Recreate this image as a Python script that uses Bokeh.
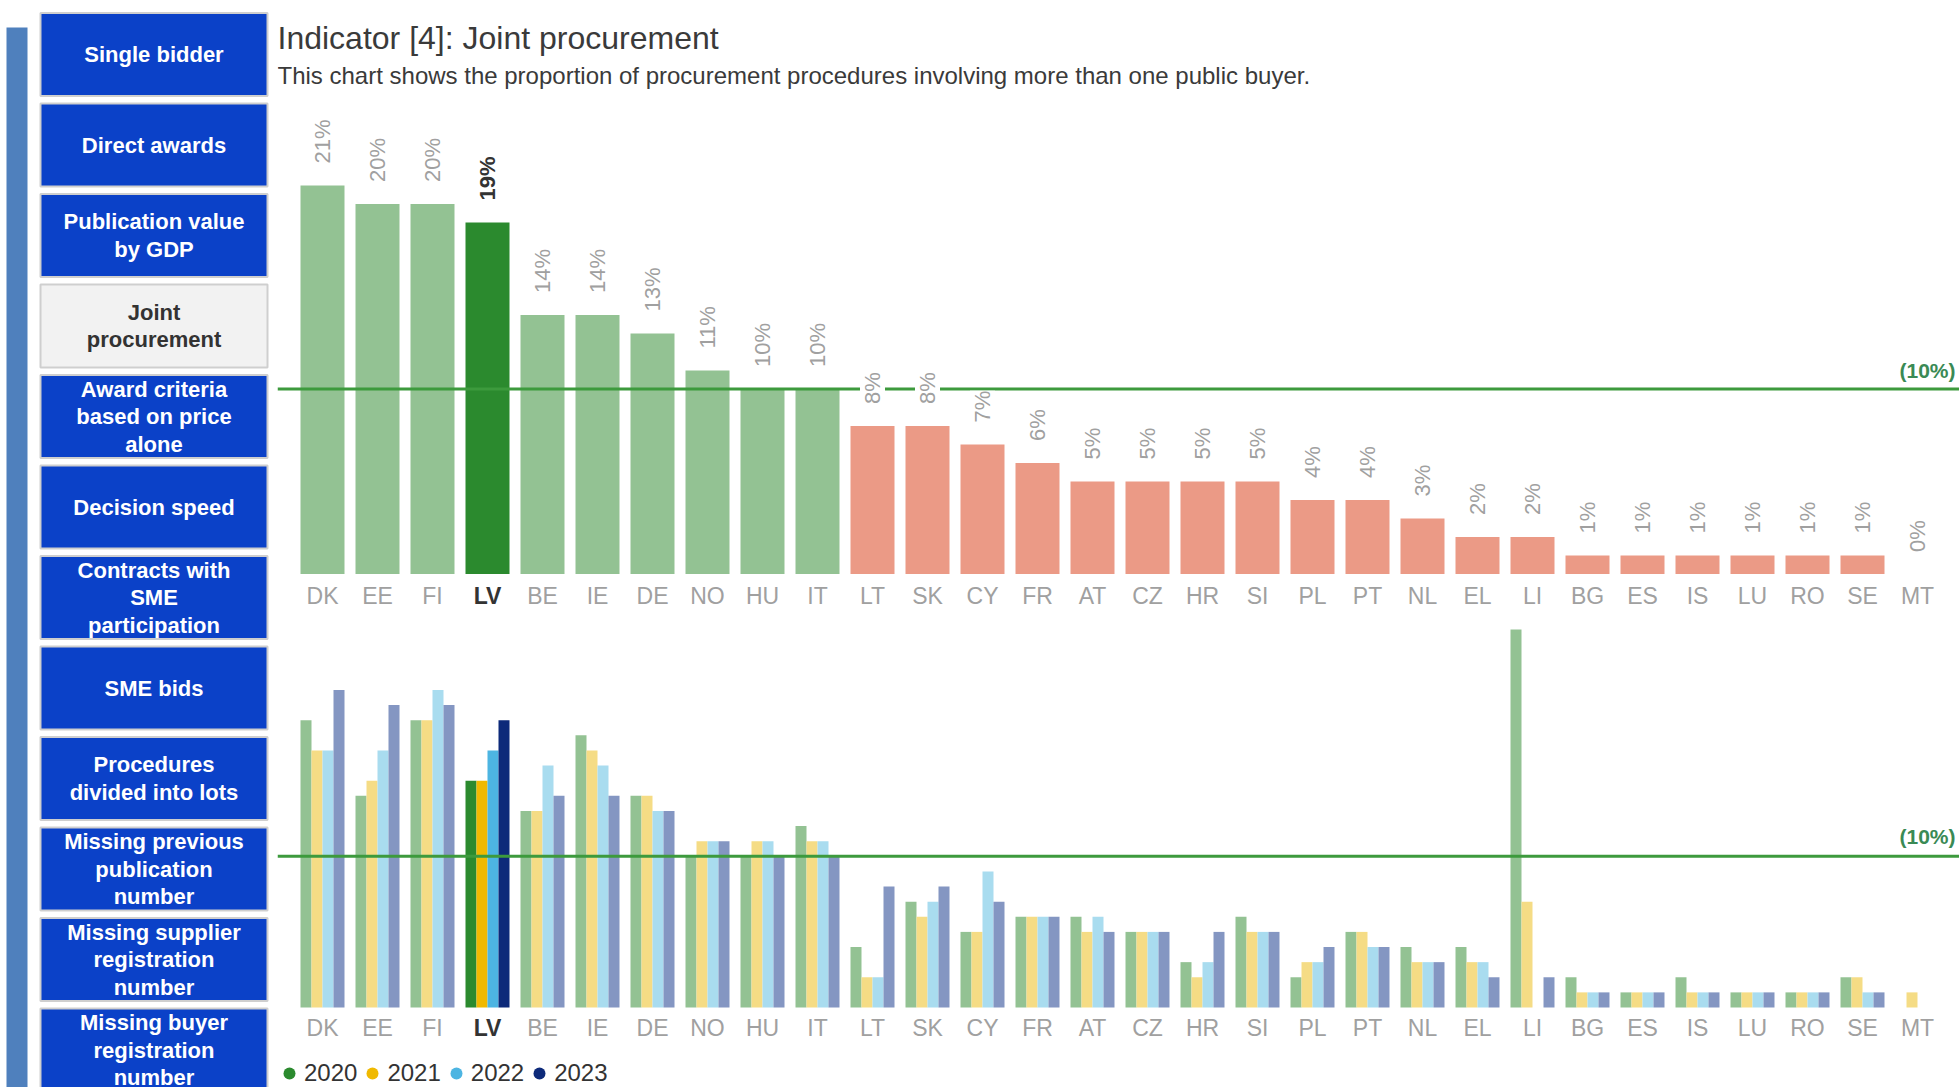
from math import pi
from bokeh.plotting import figure
from bokeh.layouts import row, column
from bokeh.models import ColumnDataSource, Range1d, Label, Legend, LegendItem
from bokeh.transform import dodge
from bokeh.core.properties import value
from bokeh.embed import file_html
from bokeh.resources import INLINE

# ---------------- data ----------------
countries = ["DK", "EE", "FI", "LV", "BE", "IE", "DE", "NO", "HU", "IT",
             "LT", "SK", "CY", "FR", "AT", "CZ", "HR", "SI", "PL", "PT",
             "NL", "EL", "LI", "BG", "ES", "IS", "LU", "RO", "SE", "MT"]
share_latest = [21, 20, 20, 19, 14, 14, 13, 11, 10, 10,
                8, 8, 7, 6, 5, 5, 5, 5, 4, 4,
                3, 2, 2, 1, 1, 1, 1, 1, 1, 0]
years = ["2020", "2021", "2022", "2023"]
share_2020 = [19, 14, 19, 15, 13, 18, 14, 10, 10, 12,
              4, 7, 5, 6, 6, 5, 3, 6, 2, 5,
              4, 4, 25, 2, 1, 2, 1, 1, 2, 0]
share_2021 = [17, 15, 19, 15, 13, 17, 14, 11, 11, 11,
              2, 6, 5, 6, 5, 5, 2, 5, 3, 5,
              3, 3, 7, 1, 1, 1, 1, 1, 2, 1]
share_2022 = [17, 17, 21, 17, 16, 16, 13, 11, 11, 11,
              2, 7, 9, 6, 6, 5, 3, 5, 3, 4,
              3, 3, 0, 1, 1, 1, 1, 1, 1, 0]
share_2023 = [21, 20, 20, 19, 14, 14, 13, 11, 10, 10,
              8, 8, 7, 6, 5, 5, 5, 5, 4, 4,
              3, 2, 2, 1, 1, 1, 1, 1, 1, 0]
highlight = "LV"
threshold = 10
threshold_label = "(10%)"

menu_items = ["Single bidder", "Direct awards", "Publication value\nby GDP",
              "Joint\nprocurement", "Award criteria\nbased on price\nalone",
              "Decision speed", "Contracts with\nSME\nparticipation", "SME bids",
              "Procedures\ndivided into lots", "Missing previous\npublication\nnumber",
              "Missing supplier\nregistration\nnumber", "Missing buyer\nregistration\nnumber"]
selected_item = "Joint\nprocurement"

title_text = "Indicator [4]: Joint procurement"
subtitle_text = ("This chart shows the proportion of procurement procedures "
                 "involving more than one public buyer.")

# ---------------- style ----------------
FONT = "Liberation Sans"
GREEN_FADED = "#93c293"
GREEN_HL = "#2b8a2e"
RED = "#eb9a86"
YEAR_FADED = ["#93c293", "#f5dc85", "#a9dcef", "#8496c2"]
YEAR_FULL = ["#2b8a2e", "#f0b900", "#4db5e2", "#0d2a7a"]
LINE_GREEN = "#3d9a3d"
LABEL_GRAY = "#a0a0a0"
DARK = "#333333"
BUTTON_BLUE = "#0b41c8"
STRIP_BLUE = "#4f80bd"
TEN_COLOR = "#3a8a55"

# ---------------- layout (pixels) ----------------
LEFT_W = 270
RIGHT_W = 1689
TOP_H = 612
BOT_H = 475
TOTAL_H = TOP_H + BOT_H
PAD_L = 7
CAT_PX = 55.0
FIRST_CAT_PX = 45.0
frame_w = RIGHT_W - PAD_L
x_start = -FIRST_CAT_PX / CAT_PX
x_end = x_start + frame_w / CAT_PX

TOP_BASE = 573.5      # baseline distance from top of top figure
TOP_PX = 18.5         # px per percentage point
BOT_BASE = 395.0
BOT_PX = 15.12

# ---------------- left menu ----------------
left = figure(width=LEFT_W, height=TOTAL_H, x_range=Range1d(0, LEFT_W),
              y_range=Range1d(TOTAL_H, 0), toolbar_location=None,
              output_backend="svg", x_axis_type=None, y_axis_type=None,
              min_border=0, outline_line_color=None)
left.grid.visible = False
left.quad(left=[6], right=[27], top=[27], bottom=[TOTAL_H],
          fill_color=STRIP_BLUE, line_color=None)
n = len(menu_items)
m_top = [12.5 + 90.5 * i for i in range(n)]
m_bot = [t + 83 for t in m_top]
m_mid = [t + 41.5 for t in m_top]
m_fill = ["#f2f2f2" if m == selected_item else BUTTON_BLUE for m in menu_items]
m_tcol = [DARK if m == selected_item else "white" for m in menu_items]
msrc = ColumnDataSource(dict(top=m_top, bottom=m_bot, mid=m_mid, text=menu_items,
                             fill=m_fill, tcol=m_tcol))
left.quad(left=40, right=267, top="top", bottom="bottom", fill_color="fill",
          line_color="#cfcfcf", line_width=2, source=msrc)
left.text(x=153.5, y="mid", text="text", text_align="center", text_baseline="middle",
          text_font=value(FONT), text_font_style="bold", text_font_size="22px",
          text_line_height=1.1, text_color="tcol", source=msrc)

# ---------------- top chart ----------------
xs = list(range(len(countries)))
bar_col = [GREEN_HL if c == highlight else (GREEN_FADED if v >= threshold else RED)
           for c, v in zip(countries, share_latest)]
lab_col = [DARK if c == highlight else LABEL_GRAY for c in countries]
lab_sty = ["bold" if c == highlight else "normal" for c in countries]
tsrc = ColumnDataSource(dict(x=xs, v=share_latest, c=countries,
                             vlab=[f"{v}%" for v in share_latest],
                             color=bar_col, lcol=lab_col, lsty=lab_sty))

top = figure(width=RIGHT_W, height=TOP_H, x_range=Range1d(x_start, x_end),
             y_range=Range1d(-(TOP_H - TOP_BASE) / TOP_PX, TOP_BASE / TOP_PX),
             toolbar_location=None, output_backend="svg", x_axis_type=None,
             y_axis_type=None, min_border=0, min_border_left=PAD_L,
             outline_line_color=None)
top.grid.visible = False
top.vbar(x="x", top="v", bottom=0, width=0.8, fill_color="color", line_color=None,
         source=tsrc)
top.segment(x0=x_start, x1=x_end, y0=threshold, y1=threshold,
            line_color=LINE_GREEN, line_width=3)
top.text(x="x", y="v", text="vlab", angle=pi / 2, text_align="left",
         text_baseline="middle", y_offset=-22, text_font=value(FONT),
         text_font_size="22px", text_color="lcol", text_font_style="lsty",
         background_fill_color="white", source=tsrc)
top.text(x="x", y=0, text="c", text_align="center", text_baseline="middle",
         y_offset=22, text_font=value(FONT), text_font_size="23px",
         text_color="lcol", text_font_style="lsty", source=tsrc)
top.add_layout(Label(x=x_end, y=threshold, text=threshold_label, text_align="right",
                     text_baseline="bottom", x_offset=-4, y_offset=7, text_font=FONT,
                     text_font_size="21px", text_font_style="bold",
                     text_color=TEN_COLOR))
top.add_layout(Label(x=0, y=TOP_H - 37, x_units="screen", y_units="screen",
                     text=title_text, text_baseline="middle", text_font=FONT,
                     text_font_size="32px", text_color="#3a3a3a"))
top.add_layout(Label(x=0, y=TOP_H - 75, x_units="screen", y_units="screen",
                     text=subtitle_text, text_baseline="middle", text_font=FONT,
                     text_font_size="24px", text_color="#3a3a3a"))

# ---------------- bottom chart ----------------
series = [share_2020, share_2021, share_2022, share_2023]
bdata = dict(x=xs, c=countries, lcol=lab_col, lsty=lab_sty)
for yr, vals, faded, full in zip(years, series, YEAR_FADED, YEAR_FULL):
    bdata["v" + yr] = vals
    bdata["col" + yr] = [full if c == highlight else faded for c in countries]
bsrc = ColumnDataSource(bdata)

bot = figure(width=RIGHT_W, height=BOT_H, x_range=Range1d(x_start, x_end),
             y_range=Range1d(-(BOT_H - BOT_BASE) / BOT_PX, BOT_BASE / BOT_PX),
             toolbar_location=None, output_backend="svg", x_axis_type=None,
             y_axis_type=None, min_border=0, min_border_left=PAD_L,
             outline_line_color=None)
bot.grid.visible = False
offsets = [-0.3, -0.1, 0.1, 0.3]
for yr, off in zip(years, offsets):
    bot.vbar(x=dodge("x", off), top="v" + yr, bottom=0, width=0.2,
             fill_color="col" + yr, line_color=None, source=bsrc)
bot.segment(x0=x_start, x1=x_end, y0=threshold, y1=threshold,
            line_color=LINE_GREEN, line_width=3)
bot.text(x="x", y=0, text="c", text_align="center", text_baseline="middle",
         y_offset=20, text_font=value(FONT), text_font_size="23px",
         text_color="lcol", text_font_style="lsty", source=bsrc)
bot.add_layout(Label(x=x_end, y=threshold, text=threshold_label, text_align="right",
                     text_baseline="bottom", x_offset=-4, y_offset=8, text_font=FONT,
                     text_font_size="21px", text_font_style="bold",
                     text_color=TEN_COLOR))

items = []
for yr, col in zip(years, YEAR_FULL):
    # legend-only markers: size 0 so nothing is drawn in the plot area
    r = bot.scatter(x="x", y="v" + yr, marker="circle", size=0, fill_color=col,
                    line_color=None, source=bsrc)
    items.append(LegendItem(label=yr, renderers=[r]))
legend = Legend(items=items, location=(-3, -1), orientation="horizontal",
                label_text_font=FONT, label_text_font_size="24px",
                label_text_color=DARK, glyph_width=30, glyph_height=30,
                label_standoff=0, spacing=0, padding=0, margin=0,
                border_line_color=None, background_fill_alpha=0)
bot.add_layout(legend)

layout = row(left, column(top, bot, spacing=0), spacing=0)
open("out.html", "w").write(file_html(layout, INLINE))
